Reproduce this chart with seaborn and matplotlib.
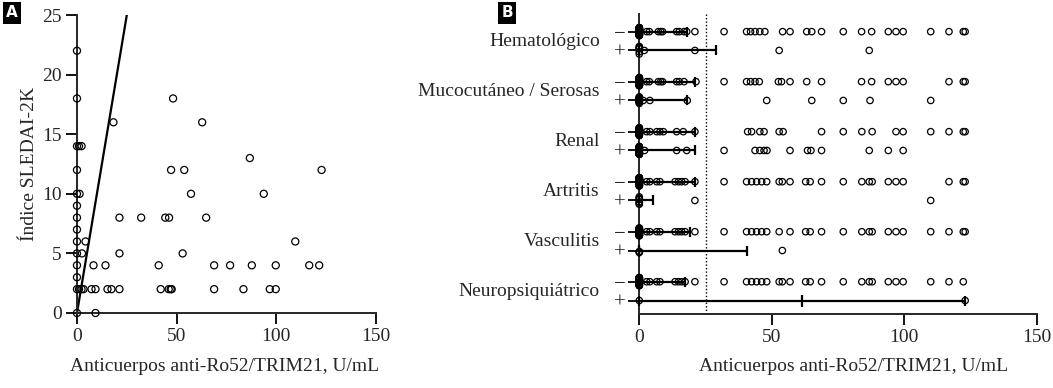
import numpy as np
import pandas as pd
import matplotlib.pyplot as plt
import seaborn as sns

# === Panel A: SLEDAI-2K frente a anti-Ro52 ===
ro52_a = [0, 0, 48.2, 18.3, 62.8, 0, 1.0, 2.3, 86.7, 0, 47.2, 53.8, 122.7,
          0, 1.3, 57.2, 93.7, 0, 0, 21.3, 32.2, 44.3, 46.2, 64.8, 0, 0, 4.3,
          109.5, 0, 2.5, 21.3, 53.0, 0, 8.3, 14.3, 41.0, 68.8, 76.8, 87.7,
          99.7, 116.5, 121.5, 0, 0, 1.0, 2.3, 3.3, 7.3, 9.3, 15.3, 17.3, 21.3,
          42.0, 46.0, 47.0, 47.5, 68.8, 83.5, 96.7, 99.7, 0, 9.3]
sledai = [22, 18, 18, 16, 16, 14, 14, 14, 13, 12, 12, 12, 12,
          10, 10, 10, 10, 9, 8, 8, 8, 8, 8, 8, 7, 6, 6,
          6, 5, 5, 5, 5, 4, 4, 4, 4, 4, 4, 4,
          4, 4, 4, 3, 2, 2, 2, 2, 2, 2, 2, 2, 2,
          2, 2, 2, 2, 2, 2, 2, 2, 0, 0]
recta_intercepto = 0.0
recta_pendiente = 1.0

# === Panel B: anti-Ro52 por dominio (− / +) ===
dominios = ["Hematológico", "Mucocutáneo / Serosas", "Renal", "Artritis",
            "Vasculitis", "Neuropsiquiátrico"]

hemat_neg = [0] * 55 + [2.8, 3.8, 7.2, 8.1, 8.8, 14.1, 15.1, 16.9, 17.9, 21.0, 32.0,
                        40.5, 42.0, 43.7, 45.5, 47.4, 54.1, 56.9, 63.2, 65.1, 68.8,
                        77.0, 83.9, 87.7, 94.0, 96.9, 99.6, 110.0, 116.9, 122.3, 123.0]
hemat_pos = [0] * 6 + [1.9, 21.0, 52.8, 86.8]
muco_neg = [0] * 50 + [2.8, 3.8, 7.2, 8.1, 8.8, 14.1, 15.1, 16.9, 21.4, 32.0, 40.5,
                       42.0, 43.7, 45.3, 52.5, 53.7, 56.9, 63.2, 68.8, 83.9, 87.7,
                       94.0, 96.9, 99.6, 116.9, 122.3, 123.0]
muco_pos = [0] * 14 + [1.5, 4.0, 18.1, 48.1, 65.1, 77.0, 87.1, 110.0]
renal_neg = [0] * 45 + [2.8, 4.0, 6.6, 7.8, 9.1, 14.1, 16.6, 21.0, 40.9, 42.4, 45.5,
                        47.1, 52.8, 54.3, 68.8, 77.0, 84.0, 87.9, 96.9, 99.6, 110.0,
                        116.9, 122.3, 123.0]
renal_pos = [0] * 30 + [2.0, 14.1, 17.9, 32.0, 43.7, 45.5, 47.1, 48.2, 56.9, 63.5,
                        64.8, 68.8, 86.8, 94.0, 99.6]
artr_neg = [0] * 50 + [2.8, 4.0, 6.6, 7.8, 13.5, 14.8, 16.0, 17.3, 21.0, 32.0, 40.5,
                       42.4, 44.3, 46.2, 48.1, 52.8, 54.0, 56.9, 62.8, 64.5, 68.8,
                       77.0, 84.0, 86.8, 87.9, 94.0, 96.9, 99.6, 116.9, 122.3, 123.0]
artr_pos = [0] * 8 + [21.0, 110.0]
vasc_neg = [0] * 50 + [2.8, 4.0, 6.6, 7.8, 13.5, 14.8, 16.0, 17.3, 21.0, 32.0, 40.5,
                       42.4, 44.3, 46.2, 48.1, 52.8, 56.9, 62.8, 64.5, 68.8, 77.0,
                       84.0, 86.8, 87.9, 94.0, 96.9, 99.6, 110.0, 116.9, 122.3, 123.0]
vasc_pos = [0] * 3 + [54.0]
neuro_neg = [0] * 50 + [2.8, 4.0, 6.6, 7.8, 13.5, 14.8, 16.0, 17.3, 21.0, 32.0, 40.5,
                        42.4, 44.3, 46.2, 48.1, 52.8, 54.0, 56.9, 62.8, 64.5, 68.8,
                        77.0, 84.0, 86.8, 87.9, 94.0, 96.9, 99.6, 110.0, 116.9, 122.3]
neuro_pos = [0, 123.0]

# mediana y rango intercuartílico
mediana_neg = [0, 0, 0, 0, 0, 0]
mediana_pos = [0, 0, 0, 0, 0, 61.5]
p25_neg = [0, 0, 0, 0, 0, 0]
p25_pos = [0, 0, 0, 0, 0, 0]
p75_neg = [17.9, 21.0, 21.0, 21.0, 19.0, 17.3]
p75_pos = [28.9, 18.1, 21.0, 5.3, 40.5, 123.0]
punto_corte = 25

grupos_neg = [hemat_neg, muco_neg, renal_neg, artr_neg, vasc_neg, neuro_neg]
grupos_pos = [hemat_pos, muco_pos, renal_pos, artr_pos, vasc_pos, neuro_pos]

# --- tabla larga para seaborn ---
PASO = 2.66
filas = []
for i, (neg, pos) in enumerate(zip(grupos_neg, grupos_pos)):
    for v in neg:
        filas.append({"valor": v, "fila": i * PASO})
    for v in pos:
        filas.append({"valor": v, "fila": i * PASO + 1})
df_b = pd.DataFrame(filas)
y_neg = np.arange(len(dominios)) * PASO
y_pos = y_neg + 1

# === Estilo ===
sns.set_theme(style="ticks")
plt.rcParams["font.family"] = ["Liberation Serif", "DejaVu Serif"]
plt.rcParams["axes.linewidth"] = 1.4

fig = plt.figure(figsize=(10.53, 3.88), dpi=100)
axA = fig.add_axes([0.0731, 0.1933, 0.284, 0.768])
axB = fig.add_axes([0.6071, 0.1915, 0.3774, 0.773])

# --- Panel A ---
sns.scatterplot(x=ro52_a, y=sledai, ax=axA, s=26, facecolors="none",
                edgecolor="black", linewidth=0.9, clip_on=False, zorder=3)
axA.axline((0, recta_intercepto), slope=recta_pendiente, color="black", lw=1.6)
axA.set_xlim(0, 150)
axA.set_ylim(0, 25)
axA.set_xticks([0, 50, 100, 150])
axA.set_yticks([0, 5, 10, 15, 20, 25])
axA.tick_params(axis="both", labelsize=14, length=8, width=1.3, pad=3, color="black")
axA.set_xlabel("Anticuerpos anti-Ro52/TRIM21, U/mL", fontsize=14)
axA.set_ylabel("Índice SLEDAI-2K", fontsize=14)
axA.xaxis.set_label_coords(0.495, -0.15)
axA.yaxis.set_label_coords(-0.13, 0.5)
sns.despine(ax=axA)

# --- Panel B ---
np.random.seed(0)
sns.stripplot(data=df_b[df_b["valor"] > 0], x="valor", y="fila", orient="h",
              native_scale=True, jitter=False, size=4.6, facecolors="none",
              edgecolor="black", linewidth=0.9, ax=axB, clip_on=False)
sns.stripplot(data=df_b[df_b["valor"] == 0], x="valor", y="fila", orient="h",
              native_scale=True, jitter=0.22, size=4.6, facecolors="none",
              edgecolor="black", linewidth=0.9, ax=axB, clip_on=False)

for med, lo, hi, yy in ((mediana_neg, p25_neg, p75_neg, y_neg),
                        (mediana_pos, p25_pos, p75_pos, y_pos)):
    med = np.array(med)
    axB.errorbar(med, yy, xerr=[med - np.array(lo), np.array(hi) - med], fmt="none",
                 ecolor="black", elinewidth=1.6, capsize=3.5, capthick=1.6,
                 zorder=4, clip_on=False)
    axB.scatter(med, yy, marker="|", s=80, color="black", linewidths=1.6,
                zorder=5, clip_on=False)

axB.axvline(punto_corte, color="black", lw=1.0, ls=(0, (1, 1.5)), zorder=1)
axB.set_xlim(0, 150)
axB.set_ylim(15.0, -0.95)
axB.set_xticks([0, 50, 100, 150])
axB.set_yticks(np.ravel(np.column_stack([y_neg, y_pos])))
axB.set_yticklabels(["−", "+"] * len(dominios))
axB.tick_params(axis="x", labelsize=14, length=8, width=1.3, pad=3, color="black")
axB.tick_params(axis="y", labelsize=15, length=8, width=1.3, pad=2, color="black")
axB.set_xlabel("Anticuerpos anti-Ro52/TRIM21, U/mL", fontsize=14)
axB.set_ylabel("")
axB.xaxis.set_label_coords(0.54, -0.148)
for dom, yy in zip(dominios, y_neg):
    axB.text(-0.099, yy + 0.5, dom, transform=axB.get_yaxis_transform(),
             ha="right", va="center", fontsize=14)
sns.despine(ax=axB)

# --- letras de panel ---
for letra, xf in (("A", 0.0114), ("B", 0.4815)):
    fig.text(xf, 0.9665, letra, color="white", fontsize=11, weight="bold",
             family="DejaVu Sans", ha="center", va="center",
             bbox=dict(facecolor="black", edgecolor="none", boxstyle="square,pad=0.2"))

fig.savefig("out.png", dpi=100)
